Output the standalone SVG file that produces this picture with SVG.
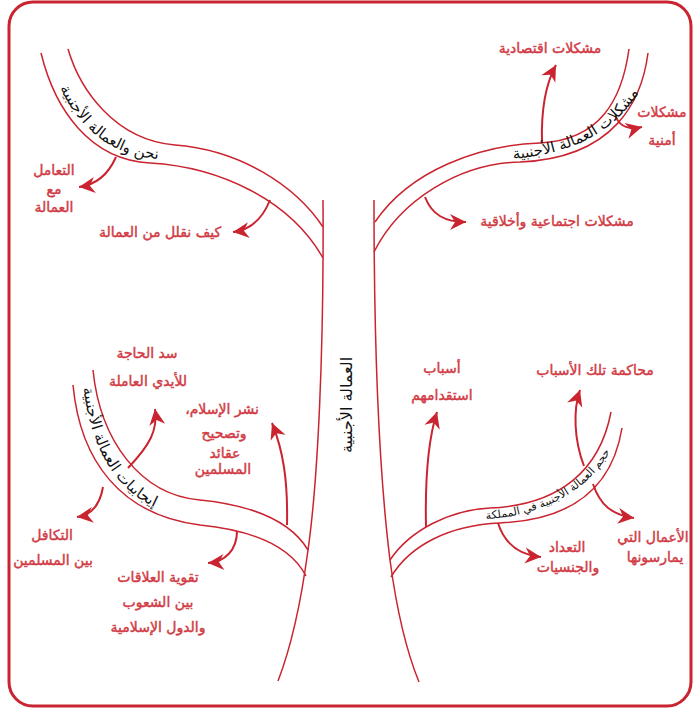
<svg xmlns="http://www.w3.org/2000/svg" width="693" height="710" viewBox="0 0 693 710">
<style>
.ln{fill:none;stroke:#c92430;stroke-width:1.5}
.ar{fill:none;stroke:#c92430;stroke-width:2;marker-end:url(#ah)}
.lb{font-family:"DejaVu Sans",sans-serif;font-size:14px;fill:#d13b45;stroke:#d13b45;stroke-width:0.45;text-anchor:middle;direction:rtl}
.bl{font-family:"DejaVu Sans",sans-serif;font-size:15px;fill:#111}
</style>
<defs>
<marker id="ah" markerUnits="userSpaceOnUse" viewBox="-17 -9 18 18" markerWidth="18" markerHeight="18" refX="0" refY="0" orient="auto"><path d="M0,0 L-16,-8 L-11,0 L-16,8 Z" fill="#c92430"/></marker>
<path id="p1" d="M49,56 C62,110 100,157 160,159 C230,162 290,197 323,247"/>
<path id="p2" d="M480,161 C563,159 617,139 648,76"/>
<path id="p3" d="M82,374 C87,440 113,505 185,516"/>
<path id="p4" d="M470,520 C541,519 602,491 624,420"/>
</defs>
<rect x="9" y="2" width="682" height="704" rx="24" fill="#fff" stroke="#c92430" stroke-width="3"/>
<g id="tree">
<path class="ln" d="M323,200 C324,350 318,480 308,550 C300,610 290,650 278,681"/>
<path class="ln" d="M374,200 C374,350 380,480 390,560 C398,620 408,655 419,682"/>
<path class="ln" d="M68,49 C80,90 115,140 175,145 C240,150 295,185 323,227"/>
<path class="ln" d="M41,53 C55,110 90,160 150,163 C220,167 290,200 323,258"/>
<path class="ln" d="M629,49 C622,100 600,140 540,143 C480,145 410,170 375,222"/>
<path class="ln" d="M648,53 C642,100 615,158 520,162 C460,163 400,200 374,252"/>
<path class="ln" d="M93,370 C100,440 140,495 200,500 C250,505 290,520 308,550"/>
<path class="ln" d="M73,385 C80,460 120,515 200,525 C250,530 290,545 306,576"/>
<path class="ln" d="M611,412 C600,470 560,505 490,508 C450,510 410,530 390,560"/>
<path class="ln" d="M622,428 C612,490 570,520 500,523 C450,525 410,545 391,577"/>
</g>
<g id="connectors">
<path class="ar" d="M116,157 C108,175 95,185 79,187"/>
<path class="ar" d="M270,200 C262,220 250,230 233,232"/>
<path class="ar" d="M542,143 C541,110 545,85 556,65"/>
<path class="ar" d="M616,117 C620,127 630,130 642,127"/>
<path class="ar" d="M425,197 C432,215 445,222 466,222"/>
<path class="ar" d="M128,468 C150,445 158,430 155,409"/>
<path class="ar" d="M287,525 C288,480 283,450 272,423"/>
<path class="ar" d="M103,487 C100,505 92,515 77,517"/>
<path class="ar" d="M237,531 C237,550 225,562 208,563"/>
<path class="ar" d="M426,527 C425,480 428,440 437,412"/>
<path class="ar" d="M584,466 C574,440 573,410 580,390"/>
<path class="ar" d="M593,484 C600,505 612,515 634,518"/>
<path class="ar" d="M498,523 C505,545 520,555 541,557"/>
</g>
<g id="trunk-label"><text class="bl" style="font-size:16px" text-anchor="middle" transform="translate(352,405) rotate(-90)">العمالة الأجنبية</text></g>
<g id="branch-1"><text class="bl"><textPath href="#p1" startOffset="34">نحن والعمالة الأجنبية</textPath></text></g>
<g id="branch-2"><text class="bl"><textPath href="#p2" startOffset="33">مشكلات العمالة الأجنبية</textPath></text></g>
<g id="branch-3"><text class="bl"><textPath href="#p3" startOffset="14">إيجابيات العمالة الأجنبية</textPath></text></g>
<g id="branch-4"><text class="bl" style="font-size:11px"><textPath href="#p4" startOffset="16">حجم العمالة الأجنبية في المملكة</textPath></text></g>
<g id="n-taamul"><text class="lb" x="54" y="175">التعامل</text><text class="lb" x="54" y="194">مع</text><text class="lb" x="54" y="212">العمالة</text></g>
<g id="n-kayf"><text class="lb" x="160" y="237">كيف نقلل من العمالة</text></g>
<g id="n-iqtisadiya"><text class="lb" x="550" y="53">مشكلات اقتصادية</text></g>
<g id="n-amniya"><text class="lb" x="662" y="117">مشكلات</text><text class="lb" x="662" y="145">أمنية</text></g>
<g id="n-ijtimaiya"><text class="lb" x="557" y="226">مشكلات اجتماعية وأخلاقية</text></g>
<g id="n-sadd"><text class="lb" x="147" y="358">سد الحاجة</text><text class="lb" x="148" y="386">للأيدي العاملة</text></g>
<g id="n-nashr"><text class="lb" x="222" y="414">نشر الإسلام،</text><text class="lb" x="224" y="438">وتصحيح</text><text class="lb" x="225" y="458">عقائد</text><text class="lb" x="223" y="474">المسلمين</text></g>
<g id="n-takaful"><text class="lb" x="52" y="540">التكافل</text><text class="lb" x="53" y="565">بين المسلمين</text></g>
<g id="n-taqwiya"><text class="lb" x="158" y="582">تقوية العلاقات</text><text class="lb" x="158" y="607">بين الشعوب</text><text class="lb" x="158" y="632">والدول الإسلامية</text></g>
<g id="n-asbab"><text class="lb" x="442" y="373">أسباب</text><text class="lb" x="442" y="400">استقدامهم</text></g>
<g id="n-muhakama"><text class="lb" x="595" y="375">محاكمة تلك الأسباب</text></g>
<g id="n-amal"><text class="lb" x="653" y="542">الأعمال التي</text><text class="lb" x="655" y="562">يمارسونها</text></g>
<g id="n-tadad"><text class="lb" x="567" y="552">التعداد</text><text class="lb" x="568" y="572">والجنسيات</text></g>
</svg>
